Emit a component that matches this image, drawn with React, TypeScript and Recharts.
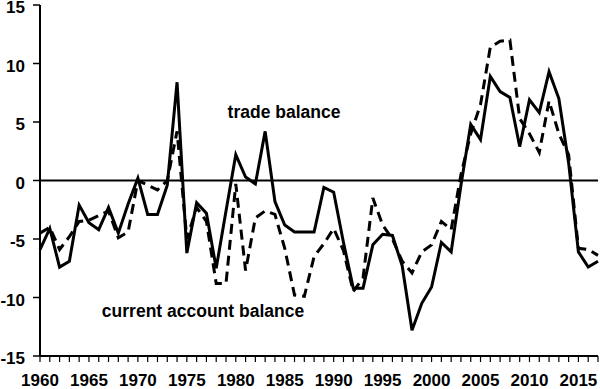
import React from "react";
import { LineChart, Line, XAxis, YAxis, ReferenceLine } from "recharts";

const years: number[] = [
  1960, 1961, 1962, 1963, 1964, 1965, 1966, 1967, 1968, 1969,
  1970, 1971, 1972, 1973, 1974, 1975, 1976, 1977, 1978, 1979,
  1980, 1981, 1982, 1983, 1984, 1985, 1986, 1987, 1988, 1989,
  1990, 1991, 1992, 1993, 1994, 1995, 1996, 1997, 1998, 1999,
  2000, 2001, 2002, 2003, 2004, 2005, 2006, 2007, 2008, 2009,
  2010, 2011, 2012, 2013, 2014, 2015, 2016, 2017,
];

const tradeBalance: number[] = [
  -5.9, -4.1, -7.4, -6.9, -2.1, -3.6, -4.2, -2.3, -4.5, -2.0,
  0.2, -2.9, -2.9, -0.4, 8.4, -6.2, -1.9, -2.8, -7.5, -2.6,
  2.2, 0.3, -0.3, 4.2, -1.8, -3.8, -4.4, -4.4, -4.4, -0.6,
  -1.0, -5.3, -9.2, -9.2, -5.5, -4.6, -4.7, -7.3, -12.8, -10.5,
  -9.1, -5.3, -6.1, -0.4, 4.8, 3.5, 8.9, 7.6, 7.1, 2.9,
  6.9, 5.8, 9.3, 7.0, 1.5, -6.1, -7.4, -6.9,
];

const currentAccount: number[] = [
  -4.5, -4.0, -5.9, -4.8, -3.5, -3.4, -3.0, -2.6, -4.9, -4.4,
  0.0, -0.4, -0.8, 0.0, 4.2, -5.0, -2.3, -3.5, -8.8, -8.8,
  -0.3, -7.7, -3.2, -2.6, -2.9, -5.8, -9.8, -9.9, -6.5, -5.4,
  -4.1, -6.0, -9.5, -8.3, -1.5, -3.8, -5.0, -6.9, -7.9, -6.1,
  -5.5, -3.5, -4.2, 0.5, 4.0, 6.5, 11.4, 11.9, 12.0, 5.3,
  4.0, 2.4, 6.8, 4.0, 2.2, -5.8, -5.9, -6.4,
];

const yTicks: number[] = [-15, -10, -5, 0, 5, 10, 15];
const seriesLabels = { trade: "trade balance", current: "current account balance" };

const data = years.map((y, i) => ({
  year: y,
  trade: tradeBalance[i],
  current: currentAccount[i],
}));

const FONT = '"Liberation Sans", Arial, Helvetica, sans-serif';
const tickStyle = { fill: "#000", fontSize: 17, fontWeight: 700, fontFamily: FONT };

const YTick = (props: any) => {
  const { x, y, payload } = props;
  return (
    <text
      x={x}
      y={y + 8}
      textAnchor="end"
      fill="#000"
      fontSize={17}
      fontWeight={700}
      fontFamily={FONT}
    >
      {String(payload.value)}
    </text>
  );
};

export default function App() {
  return (
    <div style={{ position: "relative", width: 600, height: 389, background: "#fff" }}>
      <style>{"body{margin:0;}"}</style>
      <LineChart
        width={600}
        height={389}
        data={data}
        margin={{ top: 5, right: 2, bottom: 0, left: 0 }}
      >
        <XAxis
          dataKey="year"
          type="number"
          domain={[1960, 2017]}
          ticks={years}
          interval={0}
          tickFormatter={(v: number) => (v % 5 === 0 ? String(v) : "")}
          height={33}
          tickSize={6}
          tickMargin={12}
          tick={tickStyle}
          axisLine={{ stroke: "#000", strokeWidth: 2 }}
          tickLine={{ stroke: "#000", strokeWidth: 1.2 }}
        />
        <YAxis
          type="number"
          domain={[-15, 15]}
          ticks={yTicks}
          interval={0}
          width={40}
          tickSize={7}
          tickMargin={8}
          tick={<YTick />}
          axisLine={{ stroke: "#000", strokeWidth: 2 }}
          tickLine={{ stroke: "#000", strokeWidth: 1.5 }}
        />
        <ReferenceLine y={0} stroke="#000" strokeWidth={2} />
        <Line
          type="linear"
          dataKey="current"
          stroke="#000"
          strokeWidth={3}
          strokeDasharray="10 6"
          dot={false}
          isAnimationActive={false}
        />
        <Line
          type="linear"
          dataKey="trade"
          stroke="#000"
          strokeWidth={3}
          dot={false}
          isAnimationActive={false}
        />
      </LineChart>
      <div
        style={{
          position: "absolute",
          left: 284,
          top: 112,
          transform: "translate(-50%, -50%)",
          fontFamily: FONT,
          fontWeight: 700,
          fontSize: 17.5,
          whiteSpace: "nowrap",
          color: "#000",
        }}
      >
        {seriesLabels.trade}
      </div>
      <div
        style={{
          position: "absolute",
          left: 203,
          top: 311,
          transform: "translate(-50%, -50%)",
          fontFamily: FONT,
          fontWeight: 700,
          fontSize: 17.5,
          whiteSpace: "nowrap",
          color: "#000",
        }}
      >
        {seriesLabels.current}
      </div>
    </div>
  );
}
